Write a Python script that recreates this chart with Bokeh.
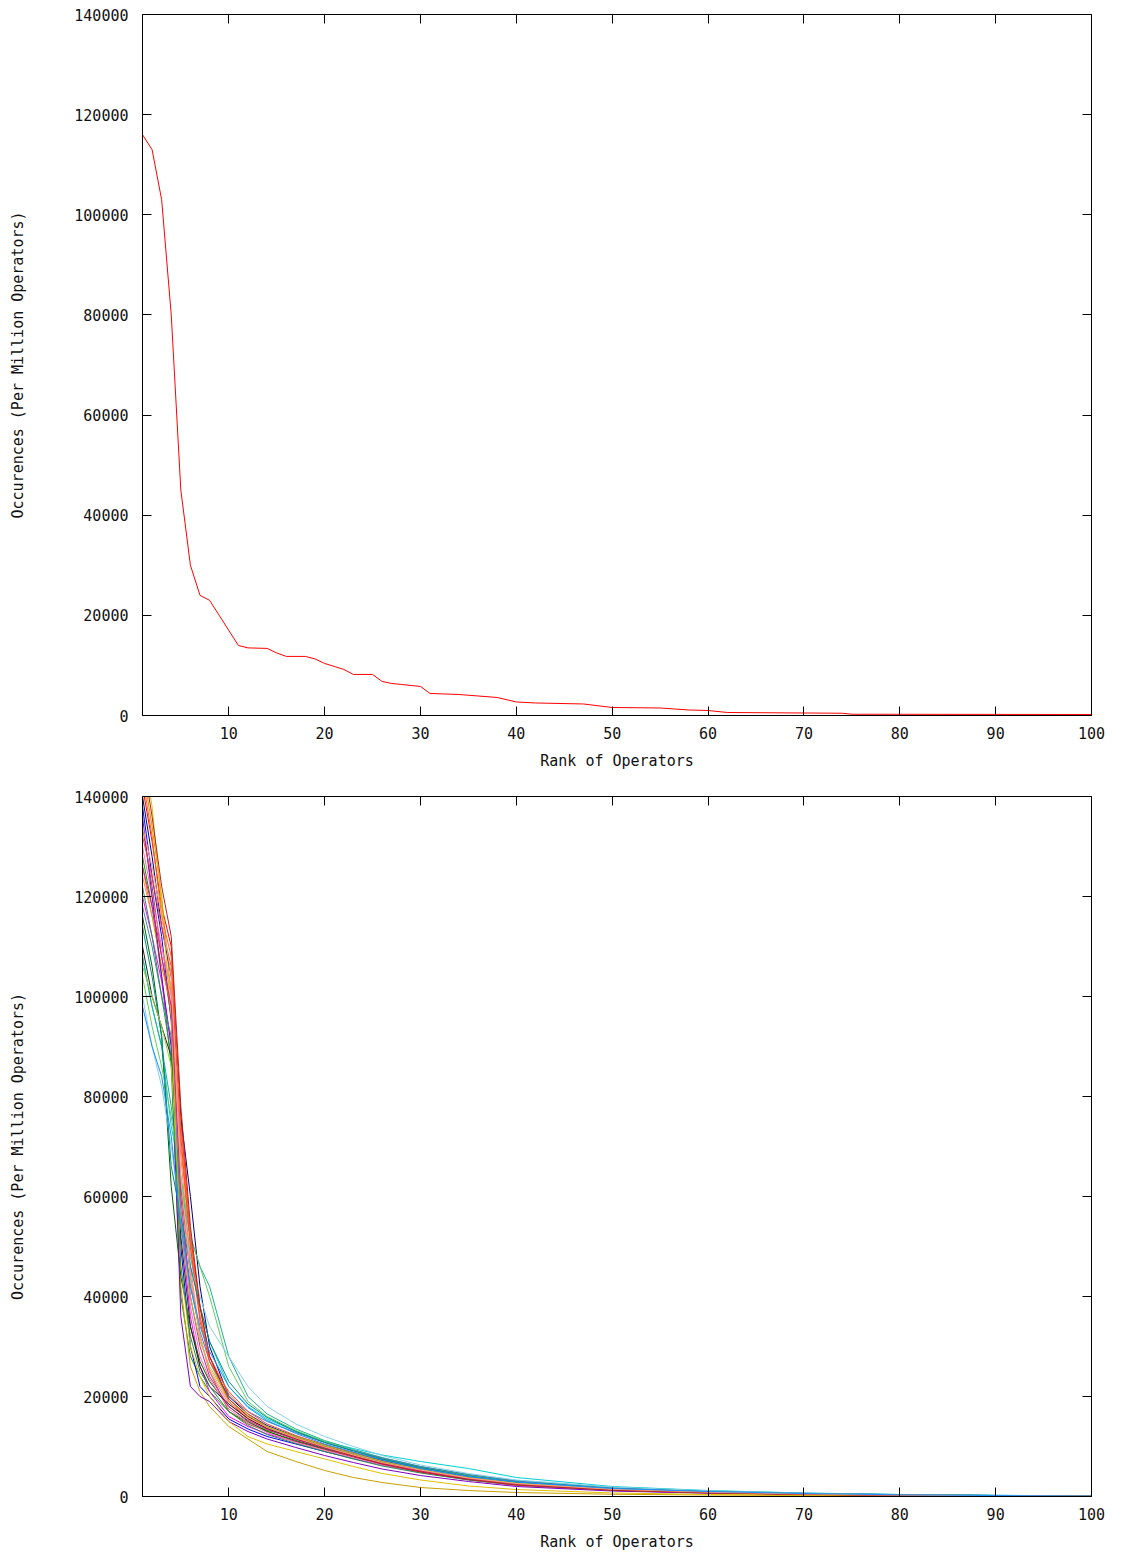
from bokeh.plotting import figure
from bokeh.layouts import column
from bokeh.models import Range1d, LinearAxis, FixedTicker, BasicTickFormatter
from bokeh.embed import file_html
from bokeh.resources import INLINE

# ---------------- data ----------------
X_TICKS = [10, 20, 30, 40, 50, 60, 70, 80, 90, 100]
Y_TICKS = [0, 20000, 40000, 60000, 80000, 100000, 120000, 140000]

# top panel: single aggregated ranking curve
top_x = [1, 2, 3, 4, 5, 6, 7, 8, 9, 10, 11, 12, 14, 15, 16, 18, 19, 20, 21, 22, 23, 25,
         26, 27, 28, 30, 31, 34, 38, 40, 42, 47, 50, 55, 58, 60, 62, 70, 74, 75, 100]
top_y = [116000, 113000, 103000, 80000, 45000, 30000, 24000, 23000, 20000, 17000, 14000,
         13500, 13400, 12500, 11800, 11800, 11300, 10400, 9800, 9200, 8200, 8200,
         6800, 6400, 6200, 5800, 4400, 4200, 3600, 2700, 2500, 2300, 1600, 1500, 1100,
         1000, 600, 500, 450, 250, 200]

# bottom panel: individual curves, sampled at these ranks
bx = [1, 2, 3, 4, 5, 6, 7, 8, 10, 12, 14, 17, 20, 23, 26, 30, 35, 40, 50, 60, 70, 80, 90, 100]
s01 = [142000, 131000, 118000, 110000, 75000, 52000, 38000, 28000, 19000, 15500, 13500, 11500, 10000, 8200, 6800, 5200, 3600, 2500, 1500, 900, 550, 300, 180, 80]
s02 = [128000, 118000, 104000, 86000, 40000, 28000, 24000, 21000, 17000, 14800, 13200, 11800, 10200, 8800, 7400, 5800, 4200, 3000, 1600, 1000, 600, 350, 200, 100]
s03 = [138000, 124000, 112000, 95000, 50000, 30000, 22000, 20000, 15500, 13500, 12000, 10500, 9000, 7600, 6300, 4900, 3500, 2600, 1400, 850, 500, 300, 160, 70]
s04 = [120000, 112000, 103000, 90000, 55000, 36000, 26000, 21000, 16000, 14000, 12500, 11000, 9500, 8000, 6500, 5000, 3600, 2400, 1300, 800, 450, 250, 140, 60]
s05 = [108000, 98000, 90000, 74000, 64000, 48000, 38000, 31000, 22000, 18000, 15500, 13000, 11000, 9600, 8300, 7000, 5600, 3800, 2000, 1200, 700, 420, 250, 110]
s06 = [134000, 122000, 108000, 96000, 62000, 44000, 32000, 25000, 17000, 14500, 13000, 11000, 9400, 7900, 6500, 5000, 3400, 2200, 1200, 700, 400, 230, 120, 50]
s07 = [126000, 116000, 106000, 98000, 70000, 50000, 36000, 27000, 19000, 16000, 14000, 12000, 10400, 8800, 7200, 5600, 4000, 2800, 1500, 950, 550, 320, 180, 80]
s08 = [146000, 134000, 120000, 100000, 42000, 26000, 21000, 18000, 14000, 11500, 9000, 7000, 5200, 3800, 2800, 1800, 1200, 800, 450, 300, 200, 120, 70, 30]
s09 = [108000, 98000, 90000, 78000, 62000, 52000, 46000, 42000, 28000, 20000, 16500, 13500, 11200, 9400, 7800, 6000, 4400, 3200, 1800, 1100, 650, 380, 220, 100]
s10 = [140000, 128000, 114000, 104000, 76000, 60000, 42000, 30000, 20000, 16500, 14200, 12000, 10000, 8600, 7200, 5600, 4000, 2800, 1600, 1000, 620, 360, 200, 90]
s11 = [124000, 116000, 110000, 102000, 68000, 46000, 32000, 25000, 18500, 15500, 13600, 11800, 10000, 8400, 6800, 5200, 3700, 2500, 1400, 850, 480, 270, 150, 60]
s12 = [116000, 106000, 92000, 62000, 44000, 34000, 27000, 23000, 18000, 15000, 13000, 11200, 9600, 8200, 6900, 5400, 3900, 2700, 1500, 900, 520, 300, 170, 70]
s13 = [130000, 120000, 110000, 100000, 58000, 38000, 28000, 23500, 17500, 14800, 12800, 10800, 9200, 7700, 6300, 4800, 3300, 2200, 1200, 700, 380, 210, 110, 40]
s14 = [136000, 120000, 104000, 90000, 36000, 22000, 20000, 19000, 15000, 13000, 11500, 9800, 8200, 6800, 5500, 4200, 3000, 2000, 1100, 650, 360, 200, 100, 40]
s15 = [104000, 94000, 86000, 76000, 64000, 52000, 46000, 40000, 26000, 19000, 16000, 13200, 11000, 9200, 7600, 5800, 4200, 3000, 1700, 1000, 600, 340, 190, 80]
s16 = [118000, 110000, 100000, 92000, 56000, 42000, 33000, 27000, 20000, 17000, 15000, 12800, 10800, 9200, 7700, 6000, 4400, 3100, 1700, 1050, 620, 350, 190, 80]
s17 = [110000, 100000, 94000, 88000, 52000, 34000, 26000, 22000, 18500, 15600, 13600, 11600, 9800, 8300, 6800, 5300, 3800, 2600, 1450, 880, 500, 280, 150, 60]
s18 = [150000, 138000, 118000, 96000, 46000, 30000, 24000, 20000, 15000, 12000, 10500, 9000, 7500, 6000, 4600, 3300, 2100, 1400, 700, 420, 250, 150, 80, 30]
s19 = [132000, 124000, 114000, 106000, 72000, 50000, 35000, 27000, 21000, 17000, 14500, 12200, 10300, 8700, 7100, 5500, 3900, 2700, 1500, 900, 520, 290, 160, 70]
s20 = [100000, 90000, 82000, 70000, 56000, 46000, 40000, 34000, 28000, 22000, 18000, 14500, 12000, 10000, 8200, 6300, 4600, 3300, 1900, 1150, 680, 400, 230, 100]
s21 = [122000, 112000, 100000, 88000, 46000, 32000, 25000, 22000, 17000, 14200, 12400, 10600, 9000, 7500, 6100, 4700, 3300, 2300, 1300, 800, 450, 260, 140, 60]
s22 = [144000, 132000, 116000, 108000, 74000, 52000, 36000, 28000, 20500, 16500, 14000, 11800, 9900, 8300, 6700, 5100, 3600, 2400, 1300, 780, 430, 240, 130, 50]
s23 = [126000, 118000, 108000, 98000, 60000, 40000, 30000, 24000, 18000, 15200, 13400, 11400, 9700, 8100, 6600, 5100, 3600, 2500, 1400, 820, 470, 260, 140, 60]
s24 = [114000, 104000, 92000, 66000, 56000, 46000, 38000, 31000, 23000, 18500, 15800, 13000, 10800, 9100, 7500, 5800, 4100, 2900, 1600, 980, 580, 330, 180, 80]
s25 = [106000, 100000, 94000, 86000, 54000, 40000, 31000, 26000, 19500, 16200, 14000, 12000, 10200, 8600, 7000, 5400, 3800, 2700, 1500, 920, 540, 300, 170, 70]
s26 = [148000, 136000, 122000, 112000, 78000, 54000, 38000, 28000, 19500, 16000, 13800, 11600, 9800, 8100, 6500, 4900, 3400, 2300, 1250, 750, 420, 230, 120, 50]
s27 = [134000, 126000, 116000, 104000, 64000, 44000, 32000, 25500, 19000, 15800, 13800, 11700, 9900, 8300, 6800, 5300, 3700, 2600, 1450, 870, 500, 280, 150, 60]
s28 = [98000, 90000, 84000, 72000, 54000, 42000, 34000, 29000, 22000, 17800, 15200, 12600, 10500, 8900, 7300, 5600, 4000, 2900, 1600, 1000, 600, 340, 190, 80]

series = [s01, s02, s03, s04, s05, s06, s07, s08, s09, s10, s11, s12, s13, s14,
          s15, s16, s17, s18, s19, s20, s21, s22, s23, s24, s25, s26, s27, s28]
colors = ["#ff0000", "#00a000", "#0000ff", "#ff00ff", "#00d0d0", "#a0522d", "#ff8000",
          "#c8a000", "#20b090", "#000080", "#fa8072", "#006400", "#ff69b4", "#8000c0",
          "#60d060", "#4682b4", "#202020", "#e0c000", "#ff4040", "#87ceeb", "#2e8b57",
          "#ff6020", "#d02090", "#008b8b", "#9acd32", "#b22222", "#ffa07a", "#1e90ff"]

FONT = "DejaVu Sans Mono"
FS = "15px"


def make_fig(height, top_border, bottom_border):
    p = figure(width=1113, height=height, output_backend="svg", toolbar_location=None,
               x_range=Range1d(1, 100), y_range=Range1d(0, 140000),
               min_border_left=142, min_border_right=22,
               min_border_top=top_border, min_border_bottom=bottom_border)
    p.grid.visible = False
    p.outline_line_color = "black"
    p.outline_line_width = 1
    p.background_fill_color = "white"
    p.border_fill_color = "white"

    xa = p.xaxis[0]
    xa.ticker = FixedTicker(ticks=X_TICKS)
    xa.axis_label = "Rank of Operators"
    ya = p.yaxis[0]
    ya.ticker = FixedTicker(ticks=Y_TICKS)
    ya.formatter = BasicTickFormatter(use_scientific=False)
    ya.axis_label = "Occurences (Per Million Operators)"
    for ax in (xa, ya):
        ax.major_tick_in = 9
        ax.major_tick_out = 0
        ax.minor_tick_in = 0
        ax.minor_tick_out = 0
        ax.axis_line_color = "black"
        ax.major_tick_line_color = "black"
        ax.major_label_text_font = FONT
        ax.major_label_text_font_size = FS
        ax.major_label_text_color = "#111111"
        ax.axis_label_text_font = FONT
        ax.axis_label_text_font_size = FS
        ax.axis_label_text_font_style = "normal"
        ax.axis_label_text_color = "#111111"
    xa.major_label_standoff = 11
    xa.axis_label_standoff = 10
    ya.major_label_standoff = 14
    ya.axis_label_standoff = 44

    # mirrored ticks on top and right (no labels)
    top_ax = LinearAxis(ticker=FixedTicker(ticks=X_TICKS))
    right_ax = LinearAxis(ticker=FixedTicker(ticks=Y_TICKS))
    for ax in (top_ax, right_ax):
        ax.major_tick_in = 9
        ax.major_tick_out = 0
        ax.minor_tick_in = 0
        ax.minor_tick_out = 0
        ax.major_label_text_color = None
        ax.major_label_text_font_size = "1px"
        ax.major_label_standoff = 0
        ax.axis_line_color = None
        ax.major_tick_line_color = "black"
    p.add_layout(top_ax, "above")
    p.add_layout(right_ax, "right")
    return p


p1 = make_fig(775, 14, 60)
p1.line(top_x, top_y, line_color="#ff0000", line_width=1)

p2 = make_fig(778, 21, 56)
for s, c in zip(series, colors):
    p2.line(bx, s, line_color=c, line_width=1)

layout = column(p1, p2)
open("out.html", "w").write(file_html(layout, INLINE))
